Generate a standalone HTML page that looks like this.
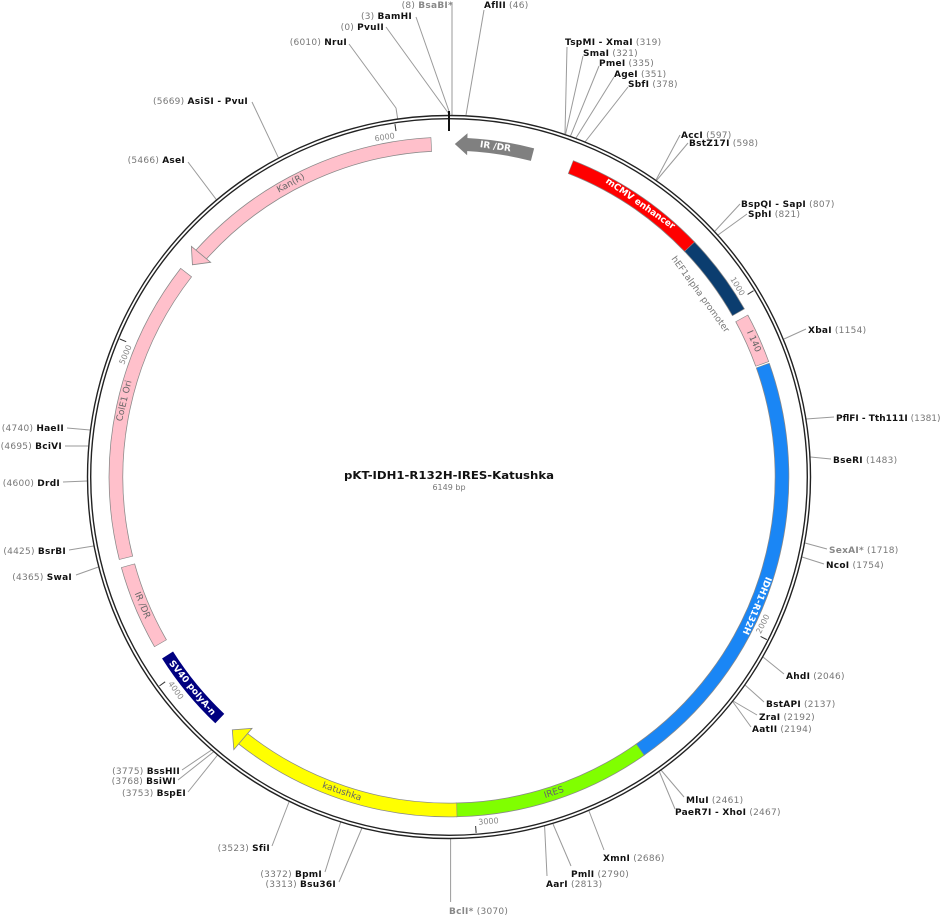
<!DOCTYPE html>
<html><head><meta charset="utf-8"><style>
html,body{margin:0;padding:0;background:#fff;}
svg{display:block;font-family:"DejaVu Sans","Liberation Sans",sans-serif;}
.n{font-size:9px;fill:#111;letter-spacing:0.25px;}
.b{font-weight:bold;}
.g{fill:#777;font-weight:normal;}
.gb{fill:#888;font-weight:bold;}
.ln line{stroke:#9a9a9a;stroke-width:1;}
.ft{fill:none;stroke-width:13;}
.ol{fill:none;stroke:#888;stroke-width:14.5;}
.tk{font-size:8px;fill:#888;}
</style></head><body>
<svg width="940" height="917" viewBox="0 0 940 917" xmlns="http://www.w3.org/2000/svg">
<rect width="940" height="917" fill="#fff"/>

<g class="ln">
<line x1="452" y1="115" x2="452" y2="2"/>
<line x1="466" y1="115" x2="484" y2="10"/>
<line x1="450" y1="114" x2="416" y2="17"/>
<line x1="449" y1="114" x2="386" y2="27"/>
<line x1="397.7" y1="119" x2="396" y2="108"/><line x1="396" y1="108" x2="349" y2="44"/>
<line x1="278.4" y1="157.7" x2="252" y2="102"/>
<line x1="216.4" y1="199.7" x2="188" y2="162"/>
<line x1="90" y1="430" x2="67" y2="428"/>
<line x1="88.3" y1="446" x2="65" y2="446"/>
<line x1="87" y1="481" x2="63" y2="482"/>
<line x1="93.6" y1="546" x2="69" y2="550"/>
<line x1="98.4" y1="567" x2="76" y2="575"/>
<line x1="211.5" y1="750" x2="182" y2="770"/>
<line x1="213.4" y1="752" x2="178" y2="780"/>
<line x1="217.6" y1="755" x2="188" y2="792"/>
<line x1="289" y1="802" x2="272" y2="846"/>
<line x1="340.7" y1="822" x2="325" y2="872"/>
<line x1="362" y1="828" x2="339" y2="882"/>
<line x1="450.6" y1="839" x2="450.6" y2="902"/>
<line x1="544.6" y1="826" x2="547" y2="876"/>
<line x1="553" y1="824" x2="571" y2="866"/>
<line x1="589" y1="811" x2="604" y2="850"/>
<line x1="661" y1="770" x2="684" y2="797"/>
<line x1="659.5" y1="772" x2="675" y2="809"/>
<line x1="745" y1="685" x2="764" y2="702"/>
<line x1="733" y1="701" x2="757" y2="715"/>
<line x1="733" y1="702" x2="751" y2="727"/>
<line x1="763" y1="657" x2="784" y2="674"/>
<line x1="805" y1="543" x2="827" y2="549"/>
<line x1="802" y1="557" x2="824" y2="564"/>
<line x1="810.5" y1="457" x2="831" y2="459"/>
<line x1="806" y1="419" x2="834" y2="417"/>
<line x1="784" y1="339" x2="806" y2="329"/>
<line x1="715" y1="231" x2="740" y2="204"/>
<line x1="718" y1="235" x2="747" y2="214"/>
<line x1="656" y1="180" x2="680" y2="135"/>
<line x1="656.5" y1="180.5" x2="688" y2="143"/>
<line x1="565" y1="134" x2="567" y2="47"/>
<line x1="565.6" y1="134" x2="583" y2="56"/>
<line x1="570.5" y1="136" x2="599" y2="66"/>
<line x1="576" y1="138" x2="614" y2="77"/>
<line x1="585" y1="142" x2="628" y2="87"/>
</g>

<circle cx="449" cy="477" r="361.5" fill="none" stroke="#222" stroke-width="1.4"/>
<circle cx="449" cy="477" r="358.3" fill="none" stroke="#222" stroke-width="1.4"/>
<line x1="449" y1="111" x2="449" y2="131" stroke="#111" stroke-width="2"/>

<g stroke="#333" stroke-width="1">
<line x1="449" y1="120" x2="449" y2="127" transform="rotate(58.55 449 477)"/>
<line x1="449" y1="120" x2="449" y2="127" transform="rotate(117.1 449 477)"/>
<line x1="449" y1="120" x2="449" y2="127" transform="rotate(175.64 449 477)"/>
<line x1="449" y1="120" x2="449" y2="127" transform="rotate(234.19 449 477)"/>
<line x1="449" y1="120" x2="449" y2="127" transform="rotate(292.74 449 477)"/>
<line x1="449" y1="120" x2="449" y2="127" transform="rotate(351.29 449 477)"/>
</g>
<g class="tk">
<text x="447" y="134" text-anchor="end" transform="rotate(58.55 449 477)">1000</text>
<text x="451" y="826" text-anchor="start" transform="rotate(-62.9 449 477)">2000</text>
<text x="452" y="826" text-anchor="start" transform="rotate(-4.36 449 477)">3000</text>
<text x="452" y="826" text-anchor="start" transform="rotate(54.19 449 477)">4000</text>
<text x="447" y="134" text-anchor="end" transform="rotate(292.74 449 477)">5000</text>
<text x="447" y="134" text-anchor="end" transform="rotate(351.29 449 477)">6000</text>
</g>

<g transform="rotate(-68.6 449 477)"><circle cx="449" cy="477" r="333" class="ol" stroke-dasharray="145.3 3000"/></g>
<g transform="rotate(-68.5 449 477)"><circle cx="449" cy="477" r="333" class="ft" stroke="#ff0000" stroke-dasharray="144.1 3000"/></g>
<g transform="rotate(-43.8 449 477)"><circle cx="449" cy="477" r="333" class="ol" stroke-dasharray="82.6 3000"/></g>
<g transform="rotate(-43.7 449 477)"><circle cx="449" cy="477" r="333" class="ft" stroke="#0b3d6f" stroke-dasharray="81.4 3000"/></g>
<g transform="rotate(-28.5 449 477)"><circle cx="449" cy="477" r="333" class="ol" stroke-dasharray="50.6 3000"/></g>
<g transform="rotate(-28.4 449 477)"><circle cx="449" cy="477" r="333" class="ft" stroke="#ffc0cb" stroke-dasharray="49.4 3000"/></g>
<g transform="rotate(-19.6 449 477)"><circle cx="449" cy="477" r="333" class="ol" stroke-dasharray="434.2 3000"/></g>
<g transform="rotate(-19.5 449 477)"><circle cx="449" cy="477" r="333" class="ft" stroke="#1a86f5" stroke-dasharray="433 3000"/></g>
<g transform="rotate(54.9 449 477)"><circle cx="449" cy="477" r="333" class="ol" stroke-dasharray="197.1 3000"/></g>
<g transform="rotate(55 449 477)"><circle cx="449" cy="477" r="333" class="ft" stroke="#80ff00" stroke-dasharray="195.9 3000"/></g>
<g transform="rotate(88.6 449 477)"><circle cx="449" cy="477" r="333" class="ol" stroke-dasharray="230.8 3000"/></g>
<g transform="rotate(88.7 449 477)"><circle cx="449" cy="477" r="333" class="ft" stroke="#ffff00" stroke-dasharray="231 3000"/></g>
<polygon points="449,144 435,130 435,158" fill="#ffff00" stroke="#888" stroke-width="0.8" transform="rotate(220.6 449 477)"/>
<g transform="rotate(133.5 449 477)"><circle cx="449" cy="477" r="333" class="ft" stroke="#000080" stroke-dasharray="82.5 3000"/></g>
<g transform="rotate(150 449 477)"><circle cx="449" cy="477" r="333" class="ol" stroke-dasharray="84.9 3000"/></g>
<g transform="rotate(150.1 449 477)"><circle cx="449" cy="477" r="333" class="ft" stroke="#ffc0cb" stroke-dasharray="83.7 3000"/></g>
<g transform="rotate(165.9 449 477)"><circle cx="449" cy="477" r="333" class="ol" stroke-dasharray="302.3 3000"/></g>
<g transform="rotate(166 449 477)"><circle cx="449" cy="477" r="333" class="ft" stroke="#ffc0cb" stroke-dasharray="301.1 3000"/></g>
<g transform="rotate(221.8 449 477)"><circle cx="449" cy="477" r="333" class="ol" stroke-dasharray="262.7 3000"/></g>
<g transform="rotate(221.9 449 477)"><circle cx="449" cy="477" r="333" class="ft" stroke="#ffc0cb" stroke-dasharray="261.5 3000"/></g>
<polygon points="449,144 462.5,131.5 462.5,156.5" fill="#ffc0cb" stroke="#888" stroke-width="0.8" transform="rotate(309.6 449 477)"/>
<g transform="rotate(-87 449 477)"><circle cx="449" cy="477" r="333" class="ft" stroke="#808080" stroke-dasharray="67 3000"/></g>
<polygon points="449,144 461.5,133 461.5,155" fill="#808080" transform="rotate(1 449 477)"/>

<g font-size="9" dominant-baseline="central" text-anchor="middle">
<text x="449" y="144" fill="#fff" font-weight="bold" transform="rotate(8 449 477)">IR /DR</text>
<text x="449" y="144" fill="#fff" font-weight="bold" transform="rotate(35 449 477)">mCMV enhancer</text>
<text x="449" y="167" fill="#777" transform="rotate(54 449 477)">hEF1alpha promoter</text>
<text x="449" y="144" fill="#666" transform="rotate(66 449 477)">I 140</text>
<text x="449" y="144" fill="#fff" font-weight="bold" transform="rotate(112.7 449 477)">IDH1-R132H</text>
<text x="449" y="810" fill="#666" transform="rotate(-18.4 449 477)">IRES</text>
<text x="449" y="810" fill="#666" transform="rotate(18.8 449 477)">katushka</text>
<text x="449" y="810" fill="#fff" font-weight="bold" transform="rotate(50.6 449 477)">SV40 polyA-n</text>
<text x="449" y="810" fill="#666" transform="rotate(67.3 449 477)">IR /DR</text>
<text x="449" y="144" fill="#666" transform="rotate(283.2 449 477)">ColE1 Ori</text>
<text x="449" y="144" fill="#666" transform="rotate(331.7 449 477)">Kan(R)</text>
</g>

<text x="449" y="479" text-anchor="middle" font-size="10.5" font-weight="bold" fill="#111" textLength="210" lengthAdjust="spacingAndGlyphs">pKT-IDH1-R132H-IRES-Katushka</text>
<text x="449" y="490" text-anchor="middle" font-size="8" fill="#777">6149 bp</text>

<g class="n" text-anchor="end">
<text x="453" y="8"><tspan class="g">(8) </tspan><tspan class="gb">BsaBI*</tspan></text>
<text x="412" y="19"><tspan class="g">(3) </tspan><tspan class="b">BamHI</tspan></text>
<text x="384" y="30"><tspan class="g">(0) </tspan><tspan class="b">PvuII</tspan></text>
<text x="347" y="45"><tspan class="g">(6010) </tspan><tspan class="b">NruI</tspan></text>
<text x="248" y="104"><tspan class="g">(5669) </tspan><tspan class="b">AsiSI - PvuI</tspan></text>
<text x="185" y="163"><tspan class="g">(5466) </tspan><tspan class="b">AseI</tspan></text>
<text x="64" y="431"><tspan class="g">(4740) </tspan><tspan class="b">HaeII</tspan></text>
<text x="62" y="449"><tspan class="g">(4695) </tspan><tspan class="b">BciVI</tspan></text>
<text x="60" y="486"><tspan class="g">(4600) </tspan><tspan class="b">DrdI</tspan></text>
<text x="66" y="554"><tspan class="g">(4425) </tspan><tspan class="b">BsrBI</tspan></text>
<text x="72" y="580"><tspan class="g">(4365) </tspan><tspan class="b">SwaI</tspan></text>
<text x="180" y="774"><tspan class="g">(3775) </tspan><tspan class="b">BssHII</tspan></text>
<text x="176" y="784"><tspan class="g">(3768) </tspan><tspan class="b">BsiWI</tspan></text>
<text x="186" y="796"><tspan class="g">(3753) </tspan><tspan class="b">BspEI</tspan></text>
<text x="270" y="851"><tspan class="g">(3523) </tspan><tspan class="b">SfiI</tspan></text>
<text x="322" y="877"><tspan class="g">(3372) </tspan><tspan class="b">BpmI</tspan></text>
<text x="336" y="887"><tspan class="g">(3313) </tspan><tspan class="b">Bsu36I</tspan></text>
</g>
<g class="n">
<text x="484" y="8"><tspan class="b">AflII</tspan><tspan class="g"> (46)</tspan></text>
<text x="565" y="45"><tspan class="b">TspMI - XmaI</tspan><tspan class="g"> (319)</tspan></text>
<text x="583" y="56"><tspan class="b">SmaI</tspan><tspan class="g"> (321)</tspan></text>
<text x="599" y="66"><tspan class="b">PmeI</tspan><tspan class="g"> (335)</tspan></text>
<text x="614" y="77"><tspan class="b">AgeI</tspan><tspan class="g"> (351)</tspan></text>
<text x="628" y="87"><tspan class="b">SbfI</tspan><tspan class="g"> (378)</tspan></text>
<text x="681" y="138"><tspan class="b">AccI</tspan><tspan class="g"> (597)</tspan></text>
<text x="689" y="146"><tspan class="b">BstZ17I</tspan><tspan class="g"> (598)</tspan></text>
<text x="741" y="207"><tspan class="b">BspQI - SapI</tspan><tspan class="g"> (807)</tspan></text>
<text x="748" y="217"><tspan class="b">SphI</tspan><tspan class="g"> (821)</tspan></text>
<text x="808" y="333"><tspan class="b">XbaI</tspan><tspan class="g"> (1154)</tspan></text>
<text x="836" y="421" letter-spacing="0"><tspan class="b">PflFI - Tth111I</tspan><tspan class="g"> (1381)</tspan></text>
<text x="833" y="463"><tspan class="b">BseRI</tspan><tspan class="g"> (1483)</tspan></text>
<text x="829" y="553"><tspan class="gb">SexAI*</tspan><tspan class="g"> (1718)</tspan></text>
<text x="826" y="568"><tspan class="b">NcoI</tspan><tspan class="g"> (1754)</tspan></text>
<text x="786" y="679"><tspan class="b">AhdI</tspan><tspan class="g"> (2046)</tspan></text>
<text x="766" y="707"><tspan class="b">BstAPI</tspan><tspan class="g"> (2137)</tspan></text>
<text x="759" y="720"><tspan class="b">ZraI</tspan><tspan class="g"> (2192)</tspan></text>
<text x="752" y="732"><tspan class="b">AatII</tspan><tspan class="g"> (2194)</tspan></text>
<text x="686" y="803"><tspan class="b">MluI</tspan><tspan class="g"> (2461)</tspan></text>
<text x="675" y="815"><tspan class="b">PaeR7I - XhoI</tspan><tspan class="g"> (2467)</tspan></text>
<text x="603" y="861"><tspan class="b">XmnI</tspan><tspan class="g"> (2686)</tspan></text>
<text x="571" y="877"><tspan class="b">PmlI</tspan><tspan class="g"> (2790)</tspan></text>
<text x="546" y="887"><tspan class="b">AarI</tspan><tspan class="g"> (2813)</tspan></text>
<text x="449" y="914"><tspan class="gb">BclI*</tspan><tspan class="g"> (3070)</tspan></text>
</g>
</svg>
</body></html>
